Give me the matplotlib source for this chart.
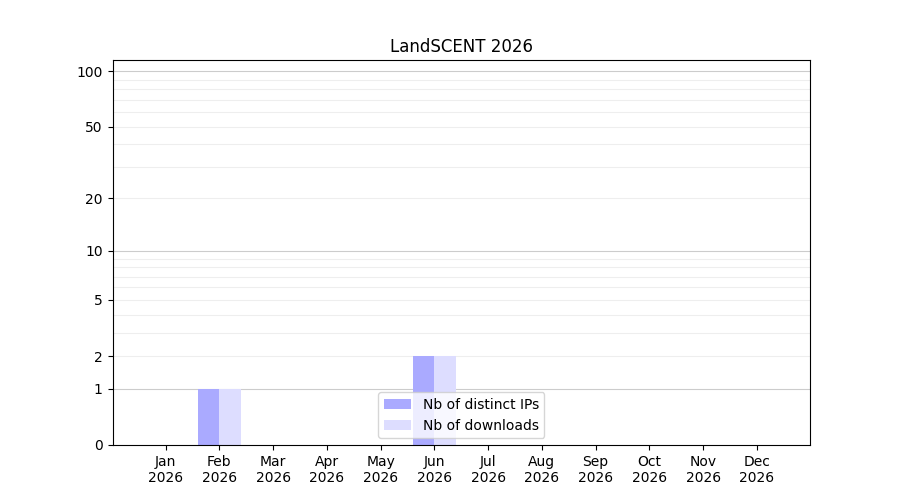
import matplotlib
matplotlib.use('Agg')
import matplotlib.pyplot as plt
import numpy as np
from matplotlib.ticker import FixedLocator

months = ['Jan', 'Feb', 'Mar', 'Apr', 'May', 'Jun',
          'Jul', 'Aug', 'Sep', 'Oct', 'Nov', 'Dec']
year = '2026'
distinct_ips = [0, 1, 0, 0, 0, 2, 0, 0, 0, 0, 0, 0]
downloads = [0, 1, 0, 0, 0, 2, 0, 0, 0, 0, 0, 0]

y_ticks = [0, 1, 2, 5, 10, 20, 50, 100]
major_grid = [1, 10, 100]
minor_grid = [2, 3, 4, 5, 6, 7, 8, 9, 20, 30, 40, 50, 60, 70, 80, 90]


def fwd(v):
    return np.log10(1 + np.clip(v, 0, None))


def inv(v):
    return 10 ** v - 1


x = np.arange(len(months))
fig, ax = plt.subplots(figsize=(9, 5), dpi=100)
ax.set_yscale('function', functions=(fwd, inv))

ax.bar(x - 0.2, distinct_ips, width=0.4, color='#aaaaff', label='Nb of distinct IPs')
ax.bar(x + 0.2, downloads, width=0.4, color='#ddddff', label='Nb of downloads')

ax.set_ylim(0, 115)
ax.yaxis.set_major_locator(FixedLocator(y_ticks))
ax.set_yticklabels([str(t) for t in y_ticks])
ax.yaxis.set_minor_locator(FixedLocator([]))

# grid lines drawn by hand at the log decades
for g in major_grid:
    ax.axhline(g, color='#cccccc', lw=0.8, zorder=0)
for g in minor_grid:
    ax.axhline(g, color='#eeeeee', lw=0.8, zorder=0)

ax.set_xticks(x)
ax.set_xticklabels([m + '\n' + year for m in months])
ax.set_title('LandSCENT ' + year)
ax.legend(loc='lower center')

plt.savefig('out.png')
